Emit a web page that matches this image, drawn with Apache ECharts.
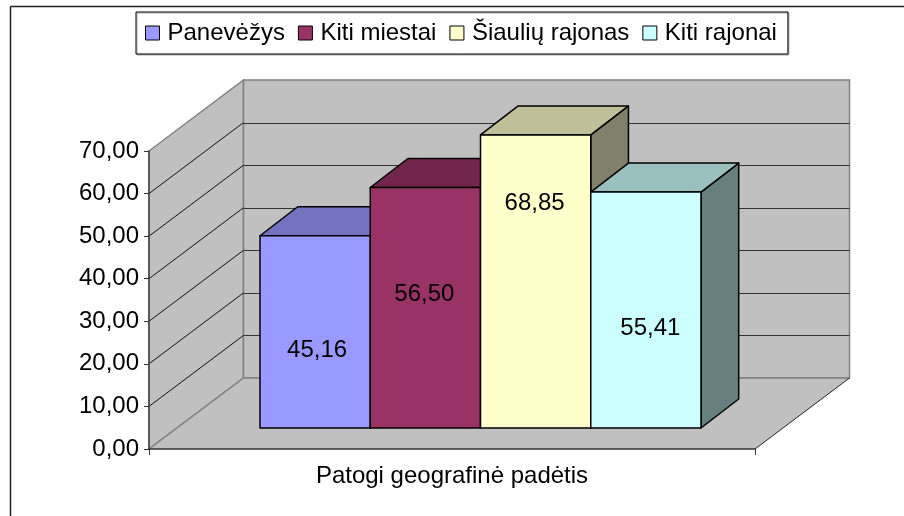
<!DOCTYPE html>
<html><head><meta charset="utf-8">
<style>html,body{margin:0;padding:0;background:#fff}#c{width:904px;height:516px}</style>
<script src="https://cdn.jsdelivr.net/npm/echarts@6/dist/echarts.min.js"></script>
</head><body><div id="c"></div>
<script>
const categories = ['Patogi geografinė padėtis'];
const seriesNames = ['Panevėžys', 'Kiti miestai', 'Šiaulių rajonas', 'Kiti rajonai'];
const panevezys = [45.16];
const kitiMiestai = [56.50];
const siauliuRajonas = [68.85];
const kitiRajonai = [55.41];
const yTicks = [0, 10, 20, 30, 40, 50, 60, 70];

// styling only
const FONT = 'Liberation Sans';
const FS = 24;
const palette = [
  {face:'#9999FF', top:'#7373BF', side:'#5C5C99'},
  {face:'#993366', top:'#73264D', side:'#5C1F3D'},
  {face:'#FFFFCC', top:'#BFBF99', side:'#80806B'},
  {face:'#CCFFFF', top:'#99BFBF', side:'#668080'}
];
const WALL_DX = 94.5, WALL_DY = -71;      // depth of the plot box
const BAR_DX = 37.7, BAR_DY = -29;        // depth of a bar
const BAR_FRONT_X = 111, BAR_FRONT_Y = -21; // offset of the first bar's front corner
const BAR_W = 110.25;
const labelShift = [[2, 19], [-1, -13], [-1, -78.5], [4.5, 18.5]]; // hand-placed labels
const fmt = v => v.toFixed(2).replace('.', ',');

function wallItem(params, api) {
  const lo = api.coord([0, yTicks[0]]);
  const hi = api.coord([0, yTicks[yTicks.length - 1]]);
  const x0 = params.coordSys.x, x1 = x0 + params.coordSys.width;
  const y0 = lo[1], y1 = hi[1];
  const wall = {stroke:'#808080', lineWidth:1.5};
  return {type:'group', children:[
    {type:'polygon', shape:{points:[[x0,y0],[x0+WALL_DX,y0+WALL_DY],[x0+WALL_DX,y1+WALL_DY],[x0,y1]]}, style:Object.assign({fill:'#C0C0C0'}, wall)},
    {type:'polygon', shape:{points:[[x0+WALL_DX,y0+WALL_DY],[x1+WALL_DX,y0+WALL_DY],[x1+WALL_DX,y1+WALL_DY],[x0+WALL_DX,y1+WALL_DY]]}, style:Object.assign({fill:'#C0C0C0'}, wall)},
    {type:'polygon', shape:{points:[[x0,y0],[x1,y0],[x1+WALL_DX,y0+WALL_DY],[x0+WALL_DX,y0+WALL_DY]]}, style:{fill:'#C0C0C0', stroke:null}},
    {type:'line', shape:{x1:x0,y1:y0,x2:x0+WALL_DX,y2:y0+WALL_DY}, style:{stroke:'#808080', lineWidth:1.5}},
    {type:'line', shape:{x1:x0+WALL_DX,y1:y0+WALL_DY,x2:x1+WALL_DX,y2:y0+WALL_DY}, style:{stroke:'#808080', lineWidth:1.5}},
    {type:'line', shape:{x1:x1,y1:y0,x2:x1+WALL_DX,y2:y0+WALL_DY}, style:{stroke:'#222', lineWidth:1}}
  ]};
}
function gridItem(params, api) {
  const v = api.value(0);
  if (v === yTicks[0] || v === yTicks[yTicks.length - 1]) return {type:'group', children:[]};
  const y = api.coord([0, v])[1];
  const x0 = params.coordSys.x, x1 = x0 + params.coordSys.width;
  const by = Math.round(y + WALL_DY) + 0.5;
  return {type:'group', children:[
    {type:'line', shape:{x1:x0,y1:y,x2:x0+WALL_DX,y2:y+WALL_DY}, style:{stroke:'#111', lineWidth:1}},
    {type:'line', shape:{x1:x0+WALL_DX,y1:by,x2:x1+WALL_DX,y2:by}, style:{stroke:'#333', lineWidth:1}}
  ]};
}
function barItem(i) {
  return function (params, api) {
    const top = api.coord([api.value(0), api.value(1)]);
    const base = api.coord([api.value(0), 0]);
    const xl = params.coordSys.x + BAR_FRONT_X + i * BAR_W;
    const xr = xl + BAR_W;
    const yb = base[1] + BAR_FRONT_Y, yt = top[1] + BAR_FRONT_Y;
    const c = palette[i];
    const edge = {stroke:'#000', lineWidth:1.5, lineJoin:'round'};
    return {type:'group', children:[
      {type:'polygon', shape:{points:[[xr,yb],[xr+BAR_DX,yb+BAR_DY],[xr+BAR_DX,yt+BAR_DY],[xr,yt]]}, style:Object.assign({fill:c.side}, edge)},
      {type:'polygon', shape:{points:[[xl,yt],[xr,yt],[xr+BAR_DX,yt+BAR_DY],[xl+BAR_DX,yt+BAR_DY]]}, style:Object.assign({fill:c.top}, edge)},
      {type:'rect', shape:{x:xl,y:yt,width:BAR_W,height:yb-yt}, style:Object.assign({fill:c.face}, edge)},
      {type:'text', style:{text:fmt(api.value(1)), x:(xl+xr)/2+labelShift[i][0], y:(yt+yb)/2+labelShift[i][1],
        align:'center', verticalAlign:'middle', fontFamily:FONT, fontSize:FS, fill:'#000'}, z2:10}
    ]};
  };
}
const values = [panevezys, kitiMiestai, siauliuRajonas, kitiRajonai];
const chart = echarts.init(document.getElementById('c'), null, {renderer:'canvas'});
chart.setOption({
  animation:false,
  backgroundColor:'#fff',
  graphic:[
    {type:'line', shape:{x1:10.5,y1:6.5,x2:904,y2:6.5}, style:{stroke:'#222', lineWidth:1.5}},
    {type:'line', shape:{x1:10.5,y1:6.5,x2:10.5,y2:516}, style:{stroke:'#222', lineWidth:1.5}}
  ],
  legend:{
    data:seriesNames,
    left:136, top:12, padding:[9,11,9,9], itemGap:13,
    itemWidth:14, itemHeight:14, icon:'rect', selectedMode:false,
    backgroundColor:'#fff', borderColor:'#000', borderWidth:1,
    shadowColor:'#aaa', shadowOffsetX:1, shadowOffsetY:1, shadowBlur:0,
    itemStyle:{borderColor:'#000', borderWidth:1},
    textStyle:{fontFamily:FONT, fontSize:FS, color:'#000', padding:[0,0,0,3]}
  },
  grid:{left:149, top:151, width:606, height:298, containLabel:false},
  xAxis:{type:'category', data:categories, z:5,
    axisLine:{lineStyle:{color:'#333', width:1.5}},
    axisTick:{show:true, alignWithLabel:false, length:6, lineStyle:{color:'#333', width:1}},
    axisLabel:{fontFamily:FONT, fontSize:FS, color:'#000', margin:15}},
  yAxis:{type:'value', min:0, max:70, interval:10, z:5,
    axisLine:{show:true, lineStyle:{color:'#444', width:1.5}},
    axisTick:{show:true, length:5, lineStyle:{color:'#333', width:1}},
    splitLine:{show:false},
    axisLabel:{fontFamily:FONT, fontSize:FS, color:'#000', margin:10, padding:[3,0,0,0], formatter:fmt}},
  series:[
    {type:'custom', name:'walls', coordinateSystem:'cartesian2d', z:1, silent:true, data:[0], renderItem:wallItem, clip:false, encode:{y:0}},
    {type:'custom', name:'gridlines', coordinateSystem:'cartesian2d', z:1.5, silent:true, data:yTicks, renderItem:gridItem, clip:false, encode:{y:0}}
  ].concat(seriesNames.map((n, i) => ({
    type:'custom', name:n, coordinateSystem:'cartesian2d', z:2 + i * 0.1, silent:true, clip:false,
    itemStyle:{color:palette[i].face},
    encode:{x:0, y:1},
    data:categories.map((c, k) => [k, values[i][k]]),
    renderItem:barItem(i)
  })))
});
</script></body></html>
